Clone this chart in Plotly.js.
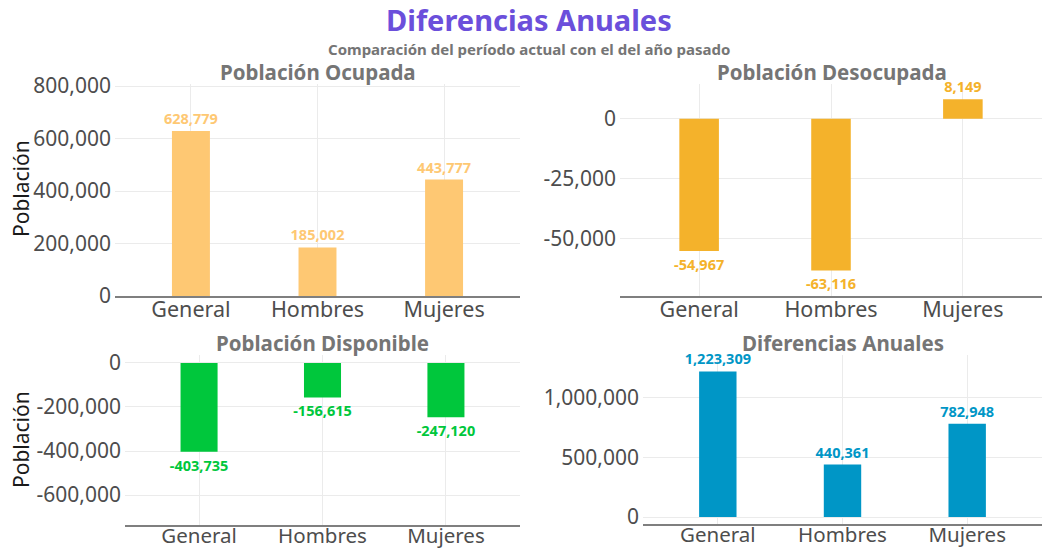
<!DOCTYPE html>
<html>
<head>
<meta charset="utf-8">
<script src="https://cdn.plot.ly/plotly-3.0.1.min.js"></script>
<style>
  html, body { margin: 0; padding: 0; background: #fff; }
  #chart { width: 1042px; height: 548px; }
</style>
</head>
<body>
<div id="chart"></div>
<script>
// categories shared by the four panels
const categories = ['General', 'Hombres', 'Mujeres'];

// yearly differences, one array per panel
const ocupada = [628779, 185002, 443777];
const desocupada = [-54967, -63116, 8149];
const disponible = [-403735, -156615, -247120];
const diferencias = [1223309, 440361, 782948];

// tick values per panel
const ticksOcupada = [0, 200000, 400000, 600000, 800000];
const ticksDesocupada = [-50000, -25000, 0];
const ticksDisponible = [-600000, -400000, -200000, 0];
const ticksDiferencias = [0, 500000, 1000000];

const FONT = '"Noto Sans", "Open Sans", sans-serif';

function fmt(v) {
  const s = Math.abs(v).toLocaleString('en-US');
  return v < 0 ? '-' + s : s;
}

function barTrace(y, color, n) {
  return {
    type: 'bar',
    x: categories,
    y: y,
    xaxis: 'x' + (n === 1 ? '' : n),
    yaxis: 'y' + (n === 1 ? '' : n),
    width: 0.3,
    marker: { color: color },
    text: y.map(fmt),
    textposition: 'outside',
    textfont: { family: FONT, size: 14.5, color: color, weight: 'bold' },
    constraintext: 'none',
    cliponaxis: false,
    hoverinfo: 'x+y',
    showlegend: false
  };
}

// bottom row labels sit close to the page edge, so pull them up a bit
function xAxis(domain, anchor, bottom) {
  return {
    domain: domain, anchor: anchor,
    showgrid: true, gridcolor: '#ebebeb', gridwidth: 1,
    showline: true, linecolor: '#7f7f7f', linewidth: 1.5,
    ticks: '', ticklen: 0, ticklabelstandoff: bottom ? -8 : -6,
    tickfont: { family: FONT, size: bottom ? 20.5 : 21.5, color: '#4d4d4d' },
    range: [-0.6, 2.6], fixedrange: true, automargin: false
  };
}

function yAxis(domain, anchor, range, ticks) {
  return {
    domain: domain, anchor: anchor,
    range: range,
    showgrid: true, gridcolor: '#ebebeb', gridwidth: 1,
    zeroline: false, showline: false,
    ticks: '', ticklen: 0, ticklabelstandoff: 3,
    tickvals: ticks, ticktext: ticks.map(fmt),
    tickfont: { family: FONT, size: 21, color: '#4d4d4d' },
    fixedrange: true, automargin: false
  };
}

const W = 1042, H = 548;
const px = v => v / W;
const py = v => 1 - v / H;

const data = [
  barTrace(ocupada, '#FEC873', 1),
  barTrace(desocupada, '#F4B22B', 2),
  barTrace(disponible, '#00C73C', 3),
  barTrace(diferencias, '#0096C6', 4)
];

function subTitle(text, x, y) {
  return {
    text: text, xref: 'paper', yref: 'paper', x: px(x), y: py(y),
    xanchor: 'center', yanchor: 'middle', showarrow: false,
    font: { family: FONT, size: 20.5, color: '#757575', weight: 'bold' }
  };
}

function yTitle(y) {
  return {
    text: 'Población', xref: 'paper', yref: 'paper', x: px(21), y: py(y),
    xanchor: 'center', yanchor: 'middle', showarrow: false, textangle: -90,
    font: { family: FONT, size: 21, color: '#1a1a1a' }
  };
}

const layout = {
  width: W, height: H,
  margin: { l: 0, r: 0, t: 0, b: 0 },
  paper_bgcolor: '#fff', plot_bgcolor: '#fff',
  font: { family: FONT },
  xaxis: xAxis([px(115), px(520)], 'y', false),
  yaxis: yAxis([py(296), py(84)], 'x', [0, 808000], ticksOcupada),
  xaxis2: xAxis([px(620), 1], 'y2', false),
  yaxis2: yAxis([py(296), py(84)], 'x2', [-73750, 14500], ticksDesocupada),
  xaxis3: xAxis([px(125), px(520)], 'y3', true),
  yaxis3: yAxis([py(525), py(355)], 'x3', [-736000, 36000], ticksDisponible),
  xaxis4: xAxis([px(643), 1], 'y4', true),
  yaxis4: yAxis([py(524), py(355)], 'x4', [-58800, 1361000], ticksDiferencias),
  annotations: [
    {
      text: '<b>Diferencias Anuales</b>',
      xref: 'paper', yref: 'paper', x: px(529), y: py(20),
      xanchor: 'center', yanchor: 'middle', showarrow: false,
      font: { family: FONT, size: 29, color: '#6B4FDB' }
    },
    {
      text: '<b>Comparación del período actual con el del año pasado</b>',
      xref: 'paper', yref: 'paper', x: px(529), y: py(49),
      xanchor: 'center', yanchor: 'middle', showarrow: false,
      font: { family: FONT, size: 15, color: '#757575' }
    },
    subTitle('Población Ocupada', 318, 72),
    subTitle('Población Desocupada', 832, 72),
    subTitle('Población Disponible', 322, 343),
    subTitle('Diferencias Anuales', 843, 343),
    yTitle(189),
    yTitle(440)
  ]
};

Plotly.newPlot('chart', data, layout, { displayModeBar: false, staticPlot: true });
</script>
</body>
</html>
